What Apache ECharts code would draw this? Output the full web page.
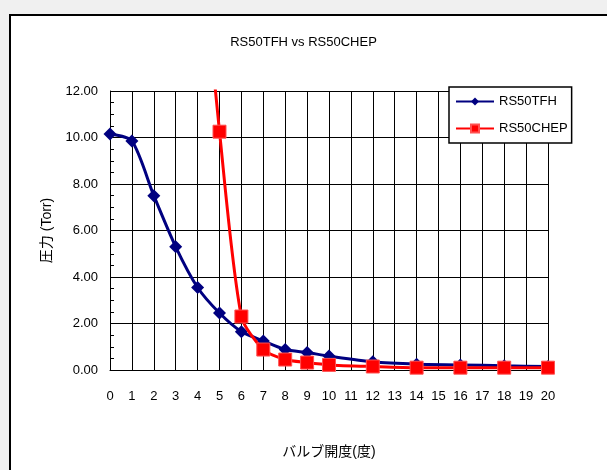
<!DOCTYPE html>
<html><head><meta charset="utf-8">
<script src="https://cdn.jsdelivr.net/npm/echarts@6/dist/echarts.min.js"></script>
<style>html,body{margin:0;padding:0;background:#f0f0f0;}#c{width:607px;height:470px;}</style>
</head><body><div id="c"></div>
<script>
const titleText = 'RS50TFH vs RS50CHEP';
const xName = 'バルブ開度(度)';
const yName = '圧力 (Torr)';
const seriesNames = ['RS50TFH', 'RS50CHEP'];
const tfhX = [0, 1, 2, 3, 4, 5, 6, 7, 8, 9, 10, 12, 14, 16, 18, 20];
const tfhY = [10.15, 9.85, 7.5, 5.3, 3.55, 2.45, 1.65, 1.25, 0.88, 0.75, 0.6, 0.35, 0.25, 0.22, 0.18, 0.15];
const chepX = [4, 5, 6, 7, 8, 9, 10, 12, 14, 16, 18, 20];
const chepY = [20, 10.25, 2.3, 0.88, 0.45, 0.32, 0.22, 0.15, 0.1, 0.1, 0.1, 0.1];
const xMin = 0, xMax = 20, xStep = 1;
const yMin = 0, yMax = 12, yStep = 2;

const font = '"Liberation Sans Narrow","Liberation Sans",Arial,sans-serif';
const jfont = '"Liberation Sans","Noto Sans CJK JP",sans-serif';
const chart = echarts.init(document.getElementById('c'));
chart.setOption({
  backgroundColor: '#f0f0f0',
  animation: false,
  graphic: [{
    type: 'rect', z: -10, silent: true,
    shape: { x: 10, y: 15, width: 700, height: 600 },
    style: { fill: '#ffffff', stroke: '#000000', lineWidth: 2 }
  }],
  title: {
    text: titleText, left: 'center', top: 31,
    textStyle: { fontFamily: font, fontSize: 13, fontWeight: 'normal', color: '#000' }
  },
  legend: {
    orient: 'vertical', left: 449, top: 87,
    data: seriesNames,
    backgroundColor: '#fff', borderColor: '#000', borderWidth: 1.5,
    padding: [8, 4, 8, 6], itemGap: 14, itemWidth: 38, itemHeight: 10,
    textStyle: { fontFamily: font, fontSize: 13, color: '#000' }
  },
  grid: { left: 110, right: 59, top: 91, bottom: 100 },
  xAxis: {
    type: 'value', min: xMin, max: xMax, interval: xStep,
    name: xName, nameLocation: 'middle', nameGap: 75,
    nameTextStyle: { fontFamily: jfont, fontSize: 14, color: '#000' },
    axisLine: { lineStyle: { color: '#000', width: 1 } },
    axisTick: { show: false },
    axisLabel: { fontFamily: font, fontSize: 13, color: '#000', margin: 20 },
    splitLine: { show: true, lineStyle: { color: '#000', width: 1 } }
  },
  yAxis: {
    type: 'value', min: yMin, max: yMax, interval: yStep,
    name: yName, nameLocation: 'middle', nameGap: 55, nameRotate: 90,
    nameTextStyle: { fontFamily: jfont, fontSize: 14, color: '#000' },
    axisLine: { show: true, lineStyle: { color: '#000', width: 1 } },
    axisTick: { show: true, inside: true, length: 4, lineStyle: { color: '#000' } },
    minorTick: { show: true, splitNumber: 4, length: 4, lineStyle: { color: '#000' } },
    axisLabel: { fontFamily: font, fontSize: 13, color: '#000', margin: 12,
      formatter: v => v.toFixed(2) },
    splitLine: { show: true, lineStyle: { color: '#000', width: 1 } }
  },
  series: [
    {
      name: seriesNames[0], type: 'line', smooth: 0.25, clip: true,
      data: tfhX.map((x, i) => [x, tfhY[i]]),
      symbol: 'diamond', symbolSize: 13,
      lineStyle: { color: '#000080', width: 3 },
      itemStyle: { color: '#000080' }, z: 3
    },
    {
      name: seriesNames[1], type: 'line', smooth: 0.25, clip: true,
      data: chepX.map((x, i) => [x, chepY[i]]),
      symbol: 'rect', symbolSize: 13,
      lineStyle: { color: '#ff0000', width: 3 },
      itemStyle: { color: '#ff0000', borderColor: '#ff5050', borderWidth: 1 }, z: 4
    }
  ]
});
</script></body></html>
